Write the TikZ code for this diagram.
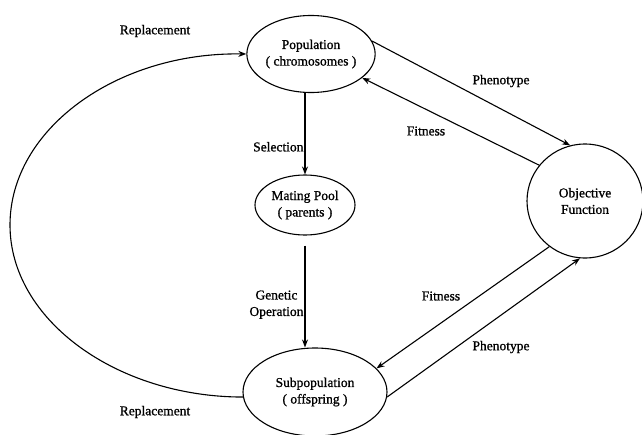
\documentclass[tikz,border=0pt]{standalone}
\usepackage{fontspec}
\setmainfont{Liberation Serif}[FakeBold=1]
\usetikzlibrary{arrows.meta,shapes.geometric}
\begin{document}
\begin{tikzpicture}[x=1pt, y=-1pt, line width=1.1pt,
    every node/.style={font=\fontsize{13.5}{16.5}\selectfont, align=center},
    blob/.style={draw, ellipse, inner sep=0pt},
    flow/.style={-{Stealth[length=8pt, width=6pt]}}]
\useasboundingbox (0,0) rectangle (642,434);

% Stages of the cycle
\node[blob, minimum width=110pt, minimum height=77pt] (pop) at (311,54) {Population\\( chromosomes )};
\node[blob, minimum width=100pt, minimum height=60pt] (pool) at (305,205) {Mating Pool\\( parents )};
\node[blob, minimum width=144pt, minimum height=88pt] (sub) at (315,392) {Subpopulation\\( offspring )};
\node[blob, minimum width=116pt, minimum height=114pt] (obj) at (585,201) {Objective\\Function};

% Main line down the middle
\draw[flow] (pool.north |- pop.south) -- node[pos=0.66, left, inner sep=1pt] {Selection} (pool.north);
\draw[flow] ([yshift=-10pt]pool.south) -- node[pos=0.58, left, inner sep=1pt] {Genetic\\Operation} (pool.south |- sub.north);

% Evaluation
\draw[flow] (pop.12) -- (obj.105);
\draw[flow] (obj.142) -- (pop.-25);
\draw[flow] (obj.232) -- (sub.21);
\draw[flow] (sub.-4) -- (obj.265);

% Replacement loop
\draw[flow] (sub.184) .. controls (117,397) and (10,320) .. (10,225)
    .. controls (10,129) and (117,52) .. (pop.west);

% Labels
\node (rep1) at (155,31) {Replacement};
\node (rep2) at (155,412) {Replacement};
\node (phen1) at (501,81) {Phenotype};
\node (fit1) at (426,131) {Fitness};
\node (fit2) at (441,296) {Fitness};
\node (phen2) at (501,347) {Phenotype};

\end{tikzpicture}
\end{document}
